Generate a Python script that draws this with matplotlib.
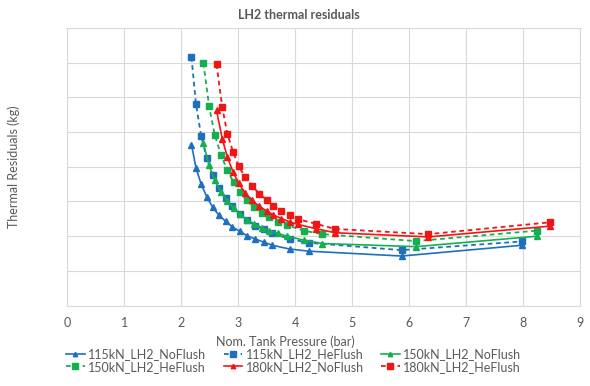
import matplotlib.pyplot as plt

plt.rcParams['font.family'] = ['Lato', 'DejaVu Sans']

# pressure points per thrust level (bar), shared by NoFlush / HeFlush runs
p_115 = [2.18, 2.26, 2.35, 2.45, 2.55, 2.66, 2.78, 2.90, 3.03, 3.16, 3.30, 3.45, 3.60, 3.91, 4.24, 5.87, 7.98]
p_150 = [2.39, 2.49, 2.59, 2.70, 2.81, 2.92, 3.03, 3.15, 3.28, 3.41, 3.55, 3.70, 3.86, 4.15, 4.48, 6.12, 8.24]
p_180 = [2.62, 2.72, 2.81, 2.91, 3.01, 3.12, 3.24, 3.37, 3.50, 3.62, 3.76, 3.91, 4.05, 4.36, 4.70, 6.34, 8.47]

# thermal residuals
r_115_noflush = [4.64, 3.97, 3.50, 3.13, 2.84, 2.61, 2.43, 2.27, 2.14, 2.01, 1.92, 1.83, 1.74, 1.63, 1.57, 1.43, 1.74]
r_115_heflush = [7.16, 5.80, 4.89, 4.24, 3.76, 3.40, 3.09, 2.86, 2.64, 2.46, 2.30, 2.20, 2.08, 1.92, 1.81, 1.60, 1.85]
r_150_noflush = [4.67, 4.04, 3.61, 3.27, 3.01, 2.80, 2.63, 2.48, 2.36, 2.25, 2.16, 2.08, 2.00, 1.89, 1.79, 1.70, 2.00]
r_150_heflush = [6.99, 5.74, 4.91, 4.33, 3.90, 3.55, 3.28, 3.04, 2.84, 2.68, 2.54, 2.41, 2.32, 2.16, 2.06, 1.86, 2.16]
r_180_noflush = [5.62, 4.81, 4.28, 3.85, 3.52, 3.25, 3.04, 2.86, 2.73, 2.61, 2.51, 2.41, 2.34, 2.22, 2.10, 1.98, 2.29]
r_180_heflush = [6.95, 5.72, 4.95, 4.43, 4.01, 3.71, 3.45, 3.23, 3.04, 2.87, 2.73, 2.60, 2.49, 2.36, 2.21, 2.06, 2.40]

x_ticks = list(range(0, 10))

blue = '#1f6fc0'
green = '#14b050'
red = '#f01616'
grey = '#595959'

fig = plt.figure(figsize=(5.9, 3.86), dpi=100)
ax = fig.add_axes([0.114, 0.208, 0.869, 0.72])

series = [
    (p_115, r_115_noflush, '115kN_LH2_NoFlush', blue, '-', '^'),
    (p_115, r_115_heflush, '115kN_LH2_HeFlush', blue, '--', 's'),
    (p_150, r_150_noflush, '150kN_LH2_NoFlush', green, '-', '^'),
    (p_150, r_150_heflush, '150kN_LH2_HeFlush', green, '--', 's'),
    (p_180, r_180_noflush, '180kN_LH2_NoFlush', red, '-', '^'),
    (p_180, r_180_heflush, '180kN_LH2_HeFlush', red, '--', 's'),
]

handles = []
for x, y, name, col, ls, mk in series:
    if mk == 's':
        h, = ax.plot(x, y, color=col, ls=ls, lw=1.3, dashes=(2.6, 2.0),
                     marker=mk, ms=4.6, label=name)
    else:
        h, = ax.plot(x, y, color=col, ls=ls, lw=1.2, marker=mk, ms=4.0,
                     label=name)
    handles.append(h)

ax.set_xlim(0, 9)
ax.set_ylim(0, 8)
ax.set_xticks(x_ticks)
ax.set_yticks(range(0, 9))
ax.set_yticklabels([])
ax.grid(True, color='#d9d9d9', lw=0.8)
ax.set_axisbelow(True)
for s in ax.spines.values():
    s.set_color('#d9d9d9')
    s.set_linewidth(0.8)
ax.tick_params(length=0, labelsize=9, colors=grey, pad=8)

ax.set_ylabel('Thermal Residuals (kg)', fontsize=9, color=grey)
ax.yaxis.set_label_coords(-0.092, 0.5)
fig.text(0.483, 0.114, 'Nom. Tank Pressure (bar)', ha='center', va='center',
         fontsize=9, color=grey)
fig.text(0.507, 0.962, 'LH2 thermal residuals', ha='center', va='center',
         fontsize=9, fontweight='bold', color=grey)

# row-major ordering for a 3-column legend
order = [0, 3, 1, 4, 2, 5]
fig.legend([handles[i] for i in order], [handles[i].get_label() for i in order],
           ncol=3, loc='upper left', bbox_to_anchor=(0.093, 0.127), frameon=False,
           fontsize=9, labelcolor=grey, handlelength=1.5, handletextpad=0.25,
           columnspacing=1.4, labelspacing=0.05, markerscale=0.8)

fig.savefig('out.png', dpi=100)
